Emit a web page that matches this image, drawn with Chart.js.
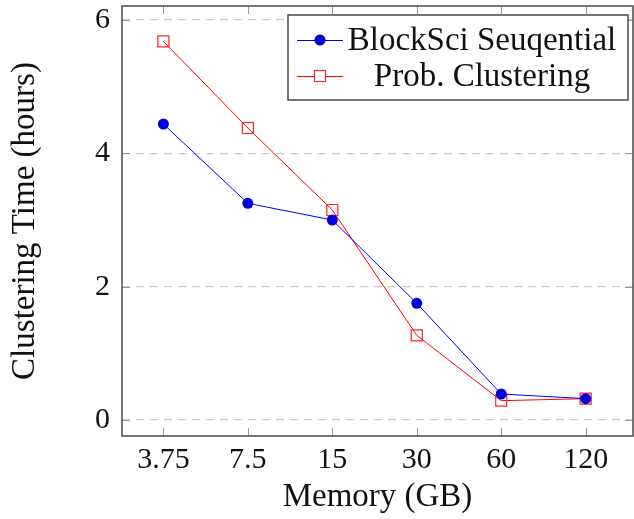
<!DOCTYPE html>
<html>
<head>
<meta charset="utf-8">
<script src="https://cdn.jsdelivr.net/npm/chart.js@4.4.1/dist/chart.umd.min.js"></script>
<style>
  html, body { margin: 0; padding: 0; background: #fff; }
  #wrap { width: 634px; height: 519px; }
</style>
</head>
<body>
<div id="wrap"><canvas id="c" width="634" height="519"></canvas></div>
<script>
const categories = ['3.75', '7.5', '15', '30', '60', '120'];
const blockSciSequential = [4.44, 3.25, 3.00, 1.75, 0.39, 0.32];
const probClustering = [5.68, 4.38, 3.15, 1.27, 0.29, 0.32];
const yTickValues = [0, 2, 4, 6];
const seriesLabels = ['BlockSci Seuqential', 'Prob. Clustering'];

const FONT = "'Liberation Serif', 'Times New Roman', serif";
const FSIZE = 30;
const TSIZE = 33;

function toPoints(arr) { return arr.map((v, i) => ({ x: i, y: v })); }

const framePlugin = {
  id: 'frame',
  afterDatasetsDraw(chart) {
    const { ctx, chartArea: a, scales } = chart;
    ctx.save();
    ctx.strokeStyle = '#9a9a9a';
    ctx.lineWidth = 1;
    const tl = 8;
    ctx.beginPath();
    scales.x.ticks.forEach(t => {
      const px = Math.round(scales.x.getPixelForValue(t.value)) + 0.5;
      ctx.moveTo(px, a.bottom); ctx.lineTo(px, a.bottom - tl);
      ctx.moveTo(px, a.top); ctx.lineTo(px, a.top + tl);
    });
    scales.y.ticks.forEach(t => {
      const py = Math.round(scales.y.getPixelForValue(t.value)) + 0.5;
      ctx.moveTo(a.left, py); ctx.lineTo(a.left + tl, py);
      ctx.moveTo(a.right, py); ctx.lineTo(a.right - tl, py);
    });
    ctx.stroke();
    ctx.strokeStyle = '#4a4a4a';
    ctx.lineWidth = 1.5;
    ctx.strokeRect(a.left, a.top, a.right - a.left, a.bottom - a.top);
    ctx.restore();
  },
  afterDraw(chart) {
    const { ctx } = chart;
    const bx = 288, by = 15, bw = 340, bh = 85;
    ctx.save();
    ctx.fillStyle = '#fff';
    ctx.fillRect(bx, by, bw, bh);
    ctx.strokeStyle = '#4a4a4a';
    ctx.lineWidth = 1.5;
    ctx.strokeRect(bx, by, bw, bh);
    const rows = [40, 76];
    chart.data.datasets.forEach((ds, i) => {
      const y = rows[i];
      ctx.strokeStyle = ds.borderColor;
      ctx.lineWidth = 1;
      ctx.beginPath();
      ctx.moveTo(297, y + 0.5); ctx.lineTo(343, y + 0.5);
      ctx.stroke();
      ctx.fillStyle = ds.pointBackgroundColor;
      ctx.strokeStyle = ds.pointBorderColor;
      ctx.lineWidth = ds.pointBorderWidth;
      ctx.beginPath();
      if (ds.pointStyle === 'circle') {
        ctx.arc(320, y, ds.pointRadius, 0, Math.PI * 2);
        ctx.fill();
      } else {
        const s = ds.pointRadius * Math.SQRT1_2;
        ctx.rect(320 - s, y - s, 2 * s, 2 * s);
        ctx.fillStyle = '#fff';
        ctx.fill();
        ctx.stroke();
      }
      ctx.fillStyle = '#111';
      ctx.font = TSIZE + 'px ' + FONT;
      ctx.textAlign = 'center';
      ctx.textBaseline = 'middle';
      ctx.fillText(ds.label, 482, y + 1);
    });
    ctx.restore();
  }
};

new Chart(document.getElementById('c'), {
  type: 'line',
  data: {
    datasets: [
      {
        label: seriesLabels[0],
        data: toPoints(blockSciSequential),
        borderColor: '#0000ff',
        backgroundColor: '#0000dd',
        borderWidth: 1,
        pointStyle: 'circle',
        pointRadius: 5.5,
        pointBackgroundColor: '#0000dd',
        pointBorderColor: '#0000dd',
        pointBorderWidth: 0,
        tension: 0
      },
      {
        label: seriesLabels[1],
        data: toPoints(probClustering),
        borderColor: '#ff0000',
        backgroundColor: '#ffffff',
        borderWidth: 1,
        pointStyle: 'rect',
        pointRadius: 7.8,
        pointBackgroundColor: 'rgba(255,255,255,0)',
        pointBorderColor: '#ff2020',
        pointBorderWidth: 1.2,
        tension: 0
      }
    ]
  },
  options: {
    responsive: false,
    animation: false,
    devicePixelRatio: 1,
    layout: { autoPadding: false, padding: { top: 6, right: 1, left: 0, bottom: 0 } },
    plugins: { legend: { display: false }, tooltip: { enabled: false } },
    scales: {
      x: {
        type: 'linear',
        min: -0.49,
        max: 5.56,
        afterBuildTicks(scale) { scale.ticks = categories.map((c, i) => ({ value: i })); },
        afterFit(scale) {
          scale.height = 83;
          scale.paddingLeft = 0; scale.paddingRight = 0;
        },
        ticks: {
          callback: (v) => categories[v],
          font: { family: FONT, size: FSIZE },
          color: '#111',
          padding: 6,
          maxRotation: 0,
          autoSkip: false
        },
        grid: { display: false, drawTicks: false },
        border: { display: false },
        title: {
          display: true,
          text: 'Memory (GB)',
          font: { family: FONT, size: TSIZE },
          color: '#111',
          padding: { top: 0, bottom: 2 }
        }
      },
      y: {
        type: 'linear',
        min: -0.24,
        max: 6.21,
        afterBuildTicks(scale) { scale.ticks = yTickValues.map(v => ({ value: v })); },
        afterFit(scale) {
          scale.width = 122;
          scale.paddingTop = 0; scale.paddingBottom = 0;
        },
        ticks: {
          font: { family: FONT, size: FSIZE },
          color: '#111',
          padding: 12
        },
        grid: {
          drawTicks: false,
          color: '#cccccc',
          lineWidth: 1.2
        },
        border: { display: false, dash: [8, 6] },
        title: {
          display: true,
          text: 'Clustering Time (hours)',
          font: { family: FONT, size: TSIZE },
          color: '#111',
          padding: { top: 6, bottom: 0 }
        }
      }
    }
  },
  plugins: [framePlugin]
});
</script>
</body>
</html>
